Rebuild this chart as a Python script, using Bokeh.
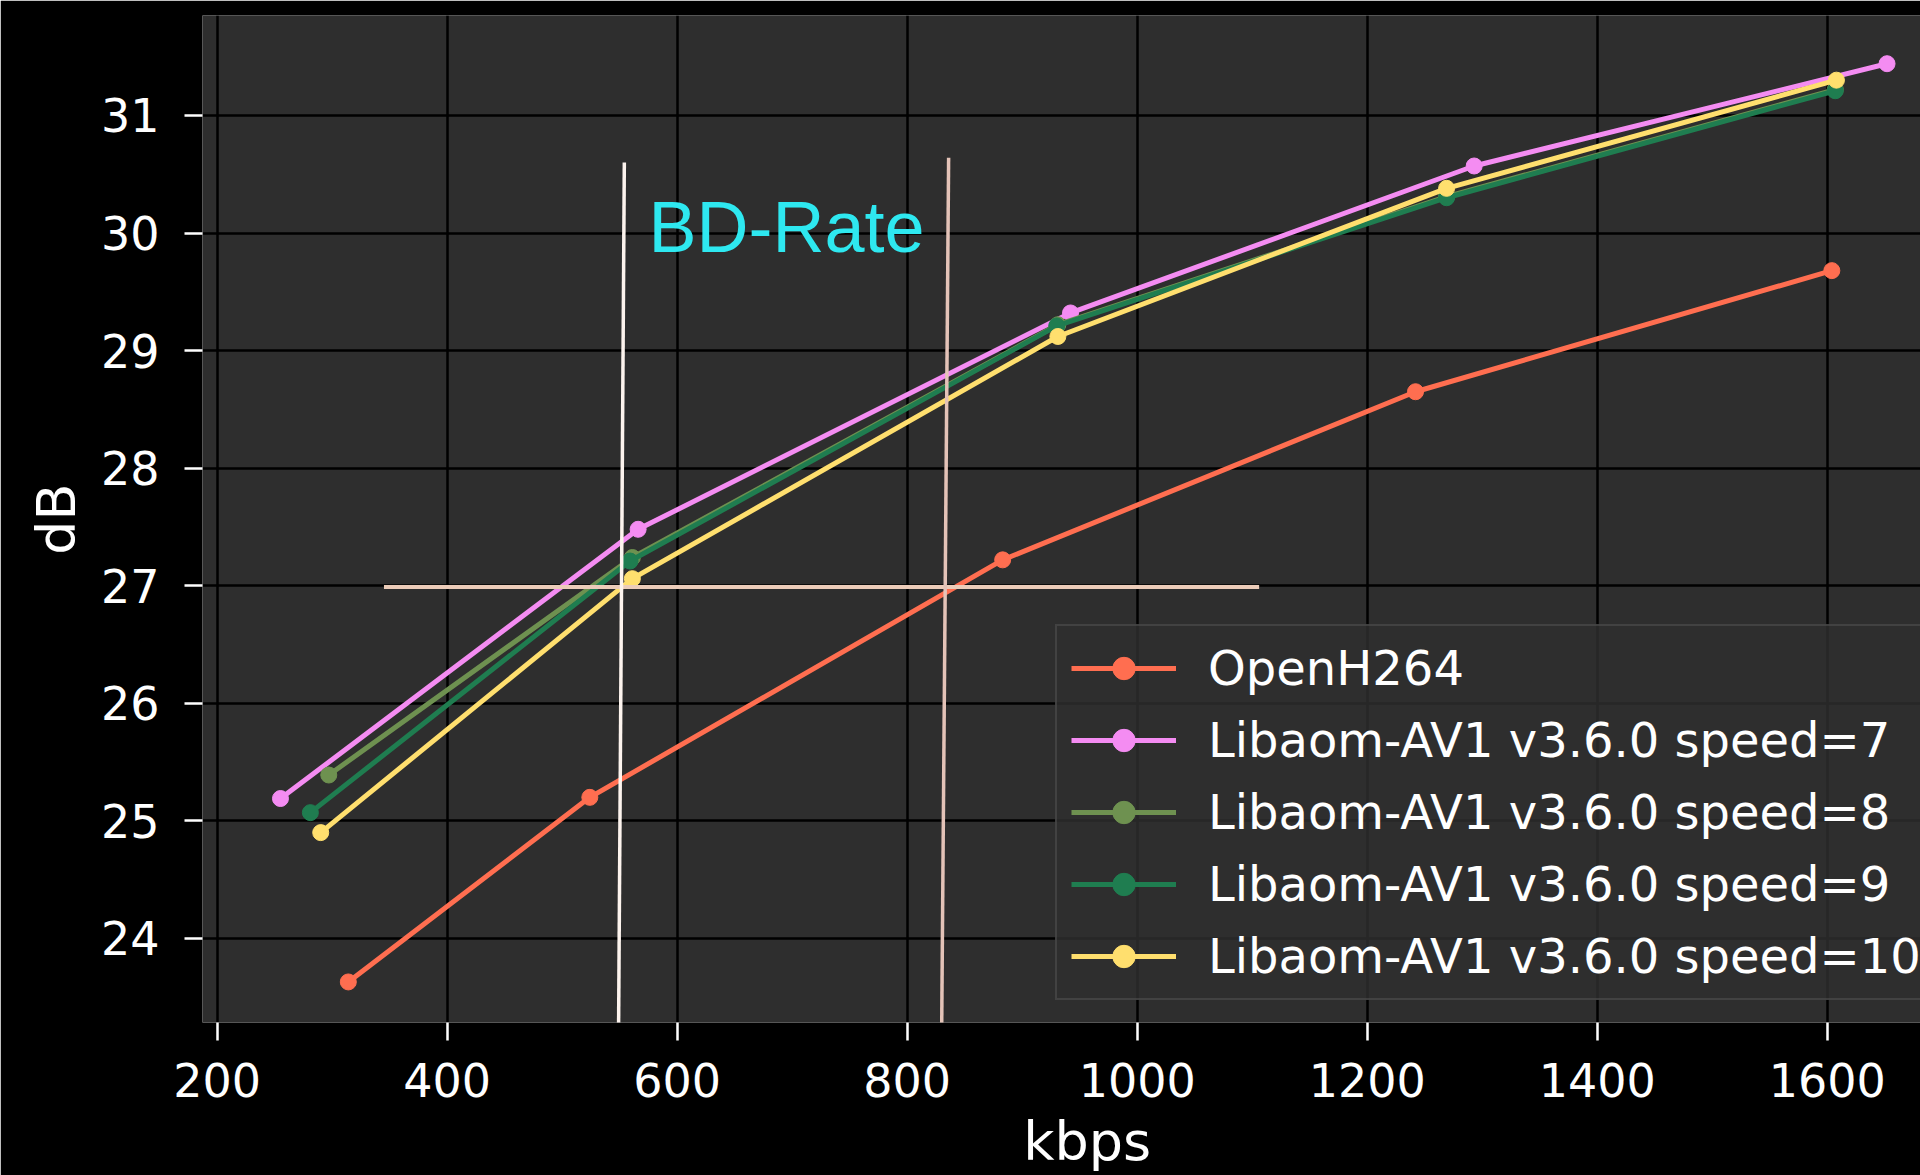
from bokeh.plotting import figure
from bokeh.models import Range1d, FixedTicker, Label, Legend
from bokeh.embed import file_html
from bokeh.resources import INLINE

# ---- data ----
kbps_openh264 = [314, 524, 883, 1242, 1604]
db_openh264 = [23.63, 25.20, 27.22, 28.65, 29.68]

kbps_s7 = [255, 566, 942, 1293, 1652]
db_s7 = [25.19, 27.48, 29.32, 30.57, 31.44]

kbps_s8 = [297, 561, 931, 1269, 1607]
db_s8 = [25.39, 27.24, 29.22, 30.31, 31.22]

kbps_s9 = [281, 559, 930, 1269, 1607]
db_s9 = [25.07, 27.21, 29.21, 30.30, 31.21]

kbps_s10 = [290, 561, 931, 1269, 1608]
db_s10 = [24.90, 27.06, 29.12, 30.38, 31.30]

series_names = ["OpenH264",
                "Libaom-AV1 v3.6.0 speed=7",
                "Libaom-AV1 v3.6.0 speed=8",
                "Libaom-AV1 v3.6.0 speed=9",
                "Libaom-AV1 v3.6.0 speed=10"]
series_colors = ["#ff6e50", "#f48cf2", "#6e9150", "#1f7d50", "#ffdf6e"]

x_ticks = [200, 400, 600, 800, 1000, 1200, 1400, 1600]
y_ticks = [24, 25, 26, 27, 28, 29, 30, 31]

# BD-Rate annotation guide lines (data coords)
guide1_x = [554, 549]
guide1_y = [30.60, 23.22]
guide2_x = [836, 830]
guide2_y = [30.64, 23.28]
guide_h_x = [345, 1106]
guide_h_y = [26.99, 26.99]

FONT = "DejaVu Sans"
W, H = 1920, 1175

p = figure(width=W, height=H, output_backend="svg", toolbar_location=None,
           x_range=Range1d(187.2, 1681.1), y_range=Range1d(23.285, 31.85),
           min_border_left=202, min_border_right=0, min_border_top=15,
           min_border_bottom=153)
p.background_fill_color = "#2e2e2e"
p.border_fill_color = "#000000"
p.outline_line_color = None

for ax in (p.xaxis[0], p.yaxis[0]):
    ax.axis_line_color = None
    ax.major_tick_line_color = "#ffffff"
    ax.major_tick_line_width = 2.5
    ax.major_tick_out = 18
    ax.major_tick_in = 0
    ax.minor_tick_line_color = None
    ax.major_label_text_color = "#ffffff"
    ax.major_label_text_font = FONT
    ax.major_label_text_font_size = "46px"
    ax.axis_label_text_font = FONT
    ax.axis_label_text_font_size = "54px"
    ax.axis_label_text_font_style = "normal"
    ax.axis_label_text_color = "#ffffff"

p.xaxis[0].ticker = FixedTicker(ticks=x_ticks)
p.yaxis[0].ticker = FixedTicker(ticks=y_ticks)
p.xaxis[0].major_label_standoff = 22
p.yaxis[0].major_label_standoff = 25

p.yaxis[0].axis_label = "dB"
p.yaxis[0].axis_label_standoff = 10
p.xaxis[0].axis_label = "\u00a0\u00a0\u00a0kbps"
p.xaxis[0].axis_label_standoff = 10

p.grid.grid_line_color = "#000000"
p.grid.grid_line_width = 2.5
p.xgrid.ticker = FixedTicker(ticks=x_ticks)
p.ygrid.ticker = FixedTicker(ticks=y_ticks)

xs = [kbps_openh264, kbps_s7, kbps_s8, kbps_s9, kbps_s10]
ys = [db_openh264, db_s7, db_s8, db_s9, db_s10]

items = []
for x, y, name, c in zip(xs, ys, series_names, series_colors):
    r1 = p.line(x, y, line_color=c, line_width=5)
    r2 = p.scatter(x, y, marker="circle", size=16, fill_color=c, line_color=c)
    items.append((name, [r1, r2]))

# guide lines
p.line(guide_h_x, guide_h_y, line_color="#ecccb9", line_width=4)
p.line(guide1_x, guide1_y, line_color="#fdf4ee", line_width=3.5)
p.line(guide2_x, guide2_y, line_color="#e4c3b8", line_width=3.5)

p.add_layout(Label(x=575, y=30.05, text="BD-Rate", text_color="#2ee8f0",
                   text_font="Liberation Sans", text_font_size="72px",
                   text_baseline="alphabetic", text_align="left"))

legend = Legend(items=items, location=(853, 22))
legend.background_fill_color = "#2e2e2e"
legend.background_fill_alpha = 0.85
legend.border_line_color = "#555555"
legend.border_line_width = 2
legend.label_text_color = "#ffffff"
legend.label_text_font = FONT
legend.label_text_font_size = "48px"
legend.glyph_width = 105
legend.glyph_height = 56
legend.label_height = 56
legend.label_standoff = 32
legend.spacing = 16
legend.padding = 14
legend.margin = 0
p.add_layout(legend, "center")

open("out.html", "w").write(file_html(p, INLINE))
